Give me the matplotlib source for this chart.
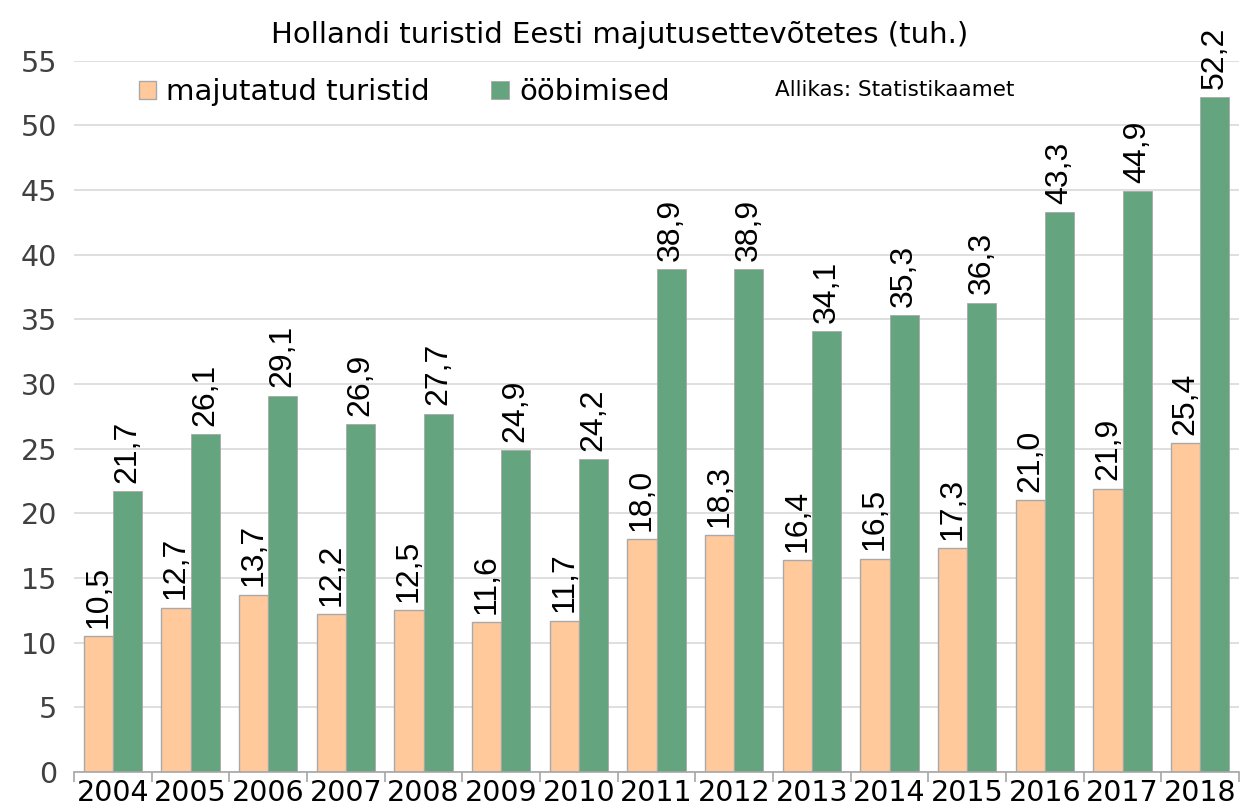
import matplotlib.pyplot as plt
import numpy as np

years = ['2004', '2005', '2006', '2007', '2008', '2009', '2010', '2011',
         '2012', '2013', '2014', '2015', '2016', '2017', '2018']
turistid = [10.5, 12.7, 13.7, 12.2, 12.5, 11.6, 11.7, 18.0, 18.3, 16.4, 16.5, 17.3, 21.0, 21.9, 25.4]
oobimised = [21.7, 26.1, 29.1, 26.9, 27.7, 24.9, 24.2, 38.9, 38.9, 34.1, 35.3, 36.3, 43.3, 44.9, 52.2]

orange = '#FFC99C'
green = '#64A57F'
tick_font = 'DejaVu Sans'
lab_font = 'Liberation Sans'

fig = plt.figure(figsize=(12.4, 8.1), dpi=100)
ax = fig.add_axes([0.0597, 0.047, 0.9395, 0.878])

x = np.arange(len(years))
w = 0.375
b1 = ax.bar(x - w/2, turistid, w, color=orange, edgecolor='#A9A9A9', linewidth=1, label='majutatud turistid', zorder=2)
b2 = ax.bar(x + w/2, oobimised, w, color=green, edgecolor='#A9A9A9', linewidth=0.6, label='ööbimised', zorder=2)

for bars, vals in ((b1, turistid), (b2, oobimised)):
    for r, v in zip(bars, vals):
        ax.annotate(f'{v:.1f}'.replace('.', ','), (r.get_x() + r.get_width()/2, v),
                    xytext=(0, 6), textcoords='offset points', rotation=90,
                    ha='center', va='bottom', fontsize=23, family=lab_font, color='black')

ax.set_xlim(-0.5, len(years) - 0.5)
ax.set_ylim(0, 55)
ax.set_yticks(range(0, 56, 5))
ax.yaxis.grid(True, color='#D9D9D9', linewidth=1.2, zorder=0)
ax.set_axisbelow(True)
ax.set_xticks(x)
ax.set_xticklabels(years)
ax.set_xticks(np.arange(-0.5, len(years)), minor=True)
ax.tick_params(axis='x', which='major', length=0, pad=5, labelsize=20.5)
ax.tick_params(axis='x', which='minor', length=7, color='#A6A6A6', width=1.2)
ax.tick_params(axis='y', length=0, pad=12, labelsize=20.5, labelcolor='#404040')
for lab in ax.get_xticklabels() + ax.get_yticklabels():
    lab.set_family(tick_font)
for s in ('top', 'right', 'left'):
    ax.spines[s].set_visible(False)
ax.spines['bottom'].set_color('#A6A6A6')
ax.spines['bottom'].set_linewidth(1.2)

fig.text(0.5, 0.957, 'Hollandi turistid Eesti majutusettevõtetes (tuh.)', ha='center', va='center',
         fontsize=21, family=tick_font)
ax.legend(loc='upper left', bbox_to_anchor=(0.033, 1.012), ncol=2, frameon=False,
          prop={'family': tick_font, 'size': 21}, handlelength=0.6, handleheight=0.6,
          handletextpad=0.35, columnspacing=2.1)
fig.text(0.625, 0.889, 'Allikas: Statistikaamet', ha='left', va='center', fontsize=15.5, family=tick_font)

fig.savefig('out.png', dpi=100)
